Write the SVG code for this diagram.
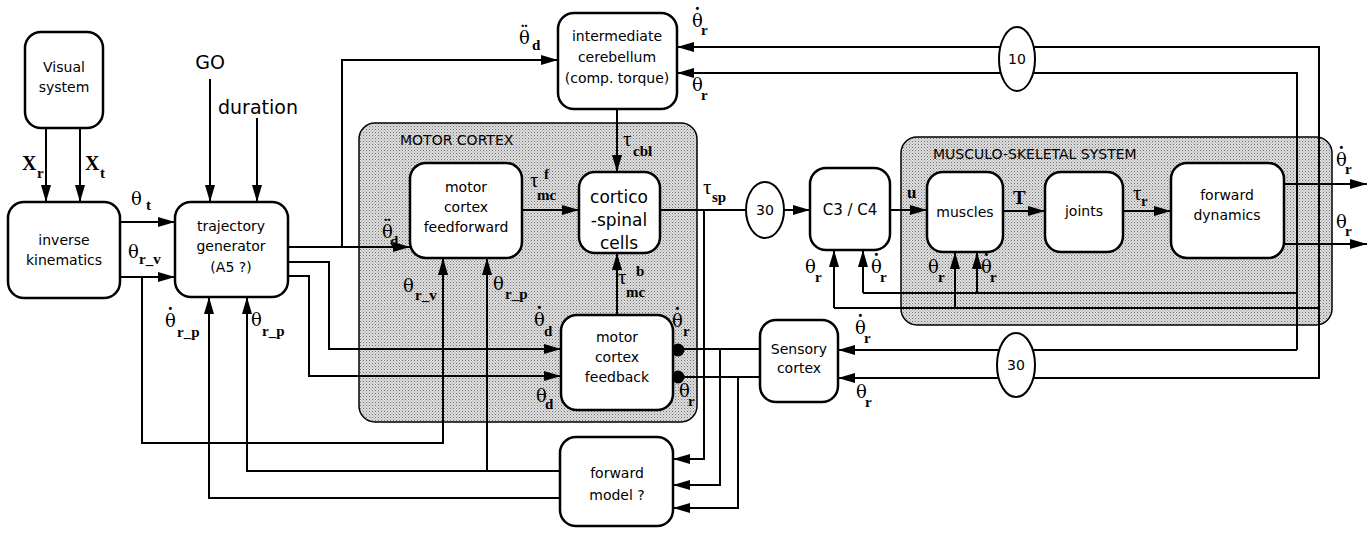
<svg xmlns="http://www.w3.org/2000/svg" width="1370" height="533" viewBox="0 0 1370 533">
<style>
.box{fill:#fff;stroke:#000;stroke-width:2.5}
.reg{fill:url(#dots);stroke:#000;stroke-width:1.5}
.ell{fill:#fff;stroke:#000;stroke-width:2}
.c{fill:none;stroke:#000;stroke-width:2}
.a{marker-end:url(#ah)}
.t{font-family:"DejaVu Sans",sans-serif;font-size:14px;text-anchor:middle;fill:#000}
.big{font-size:17px}
.lab{font-family:"DejaVu Sans",sans-serif;font-size:14px;fill:#000}
.m{font-family:"Liberation Serif","DejaVu Serif",serif;font-size:21px;fill:#000}
.th{font-family:"DejaVu Serif",serif;font-size:18px}
.d{font-family:"Liberation Serif",serif;font-size:20px;font-weight:bold}
.s{font-family:"Liberation Serif",serif;font-size:15px;font-weight:bold}
</style>
<defs>
<pattern id="dots" width="3" height="3" patternUnits="userSpaceOnUse">
<rect width="3" height="3" fill="#dedede"/>
<rect width="1" height="1" fill="#707070"/>
<rect x="1.5" y="1.5" width="1" height="1" fill="#929292"/>
</pattern>
<marker id="ah" markerWidth="17" markerHeight="10" refX="17" refY="5" orient="auto" markerUnits="userSpaceOnUse">
<path d="M0,0 L17,5 L0,10 z" fill="#000"/>
</marker>
</defs>
<rect width="1370" height="533" fill="#fff"/>

<g id="motor-cortex-region">
<rect class="reg" x="359" y="123" width="338" height="299" rx="16"/>
<text class="lab" x="400" y="145">MOTOR CORTEX</text>
</g>
<g id="musculo-skeletal-region">
<rect class="reg" x="901" y="137" width="431" height="188" rx="16"/>
<text class="lab" x="933" y="159">MUSCULO-SKELETAL SYSTEM</text>
</g>

<g id="connectors">
<path class="c a" d="M46,128 V202"/>
<path class="c a" d="M80,128 V202"/>
<path class="c a" d="M210,79 V202"/>
<path class="c a" d="M257,118 V202"/>
<path class="c a" d="M120,222 H175"/>
<path class="c a" d="M120,277 H175"/>
<path class="c a" d="M142,277 V443 H443 V258"/>
<path class="c a" d="M288,247 H410"/>
<path class="c a" d="M342,247 V60 H558"/>
<path class="c a" d="M288,262 H329 V349 H561"/>
<path class="c a" d="M288,276 H309 V376 H561"/>
<path class="c a" d="M560,471 H247 V297"/>
<path class="c a" d="M487,471 V258"/>
<path class="c a" d="M560,498 H209 V297"/>
<path class="c a" d="M617,109 V172"/>
<path class="c a" d="M522,210 H579"/>
<path class="c a" d="M617,315 V253"/>
<path class="c" d="M660,210 H746"/>
<path class="c a" d="M784,210 H810"/>
<path class="c a" d="M704,210 V459 H673"/>
<path class="c" d="M678,349 H760"/>
<path class="c" d="M678,377 H760"/>
<path class="c a" d="M720,349 V485 H673"/>
<path class="c a" d="M738,377 V508 H673"/>
<path class="c a" d="M890,210 H927"/>
<path class="c a" d="M1003,211 H1045"/>
<path class="c a" d="M1123,211 H1171"/>
<path class="c a" d="M1284,184 H1367"/>
<path class="c a" d="M1284,244 H1367"/>
<path class="c a" d="M1319,379 V47 H677"/>
<path class="c a" d="M1297,350 V73 H677"/>
<path class="c a" d="M1297,350 H838"/>
<path class="c a" d="M1319,378 H838"/>
<path class="c" d="M1297,293 H863"/>
<path class="c a" d="M863,293 V250"/>
<path class="c a" d="M977,293 V252"/>
<path class="c" d="M1319,308 H834"/>
<path class="c a" d="M834,308 V250"/>
<path class="c a" d="M955,308 V252"/>
<circle cx="678" cy="350" r="6.5" fill="#000"/>
<circle cx="678" cy="377" r="6.5" fill="#000"/>
</g>

<g id="visual-system">
<rect class="box" x="25" y="32" width="78" height="96" rx="16"/>
<text class="t" x="64" y="72">Visual</text>
<text class="t" x="64" y="92">system</text>
</g>
<g id="inverse-kinematics">
<rect class="box" x="8" y="202" width="112" height="96" rx="16"/>
<text class="t" x="64" y="245">inverse</text>
<text class="t" x="64" y="265">kinematics</text>
</g>
<g id="trajectory-generator">
<rect class="box" x="175" y="202" width="113" height="95" rx="16"/>
<text class="t" x="231" y="231">trajectory</text>
<text class="t" x="231" y="251">generator</text>
<text class="t" x="231" y="272">(A5 ?)</text>
</g>
<g id="cerebellum">
<rect class="box" x="558" y="13" width="119" height="96" rx="16"/>
<text class="t" x="617" y="41">intermediate</text>
<text class="t" x="617" y="62">cerebellum</text>
<text class="t" x="617" y="83">(comp. torque)</text>
</g>
<g id="mc-feedforward">
<rect class="box" x="410" y="163" width="112" height="95" rx="16"/>
<text class="t" x="466" y="192">motor</text>
<text class="t" x="466" y="212">cortex</text>
<text class="t" x="466" y="232">feedforward</text>
</g>
<g id="cortico-spinal">
<rect class="box" x="579" y="172" width="81" height="81" rx="16"/>
<text class="t big" x="619" y="203">cortico</text>
<text class="t big" x="619" y="226">-spinal</text>
<text class="t big" x="619" y="249">cells</text>
</g>
<g id="mc-feedback">
<rect class="box" x="561" y="315" width="112" height="95" rx="16"/>
<text class="t" x="617" y="342">motor</text>
<text class="t" x="617" y="362">cortex</text>
<text class="t" x="617" y="382">feedback</text>
</g>
<g id="forward-model">
<rect class="box" x="560" y="437" width="113" height="89" rx="16"/>
<text class="t" x="617" y="478">forward</text>
<text class="t" x="617" y="500">model ?</text>
</g>
<g id="sensory-cortex">
<rect class="box" x="760" y="320" width="78" height="82" rx="16"/>
<text class="t" x="799" y="354">Sensory</text>
<text class="t" x="799" y="373">cortex</text>
</g>
<g id="delay-30a">
<ellipse class="ell" cx="765" cy="210" rx="19" ry="28"/>
<text class="t" x="765" y="215">30</text>
</g>
<g id="c3c4">
<rect class="box" x="810" y="168" width="80" height="82" rx="16"/>
<text class="t" x="850" y="215" style="font-size:15px">C3 / C4</text>
</g>
<g id="muscles">
<rect class="box" x="927" y="172" width="76" height="80" rx="16"/>
<text class="t" x="965" y="217">muscles</text>
</g>
<g id="joints">
<rect class="box" x="1045" y="172" width="78" height="80" rx="16"/>
<text class="t" x="1084" y="216">joints</text>
</g>
<g id="forward-dynamics">
<rect class="box" x="1171" y="163" width="113" height="95" rx="16"/>
<text class="t" x="1227" y="200">forward</text>
<text class="t" x="1227" y="220">dynamics</text>
</g>
<g id="delay-10">
<ellipse class="ell" cx="1017" cy="59" rx="18" ry="32"/>
<text class="t" x="1017" y="64">10</text>
</g>
<g id="delay-30b">
<ellipse class="ell" cx="1016" cy="365" rx="19" ry="32"/>
<text class="t" x="1016" y="370">30</text>
</g>

<g id="inputs">
<text class="lab" x="210" y="69" text-anchor="middle" style="font-size:19px">GO</text>
<text class="lab" x="258" y="114" text-anchor="middle" style="font-size:19px">duration</text>
</g>

<g id="labels">
<text class="m"><tspan x="22" y="170" font-weight="bold" style="font-size:20px">X</tspan><tspan class="s" x="37" y="178">r</tspan></text>
<text class="m"><tspan x="85" y="170" font-weight="bold" style="font-size:20px">X</tspan><tspan class="s" x="100" y="178">t</tspan></text>
<text class="m"><tspan class="th" x="131" y="205">θ</tspan><tspan class="s" x="146" y="210">t</tspan></text>
<text class="m"><tspan class="th" x="128" y="258">θ</tspan><tspan class="s" x="139" y="264">r_v</tspan></text>
<text class="m"><tspan class="th" x="519" y="44">θ</tspan><tspan class="d" x="521" y="39">¨</tspan><tspan class="s" x="532" y="50">d</tspan></text>
<text class="m"><tspan class="th" x="382" y="238">θ</tspan><tspan class="d" x="384" y="233">¨</tspan><tspan class="s" x="390" y="246">d</tspan></text>
<text class="m"><tspan x="530" y="187">τ</tspan><tspan class="s" x="544" y="179">f</tspan><tspan class="s" x="537" y="200">mc</tspan></text>
<text class="m"><tspan x="623" y="146">τ</tspan><tspan class="s" x="633" y="156">cbl</tspan></text>
<text class="m"><tspan x="618" y="284">τ</tspan><tspan class="s" x="636" y="276">b</tspan><tspan class="s" x="626" y="297">mc</tspan></text>
<text class="m"><tspan class="th" x="493" y="290">θ</tspan><tspan class="s" x="505" y="299">r_p</tspan></text>
<text class="m"><tspan class="th" x="403" y="292">θ</tspan><tspan class="s" x="415" y="300">r_v</tspan></text>
<text class="m"><tspan class="th" x="251" y="326">θ</tspan><tspan class="s" x="262" y="336">r_p</tspan></text>
<text class="m"><tspan class="th" x="165" y="327">θ</tspan><tspan class="d" x="167" y="322">˙</tspan><tspan class="s" x="177" y="337">r_p</tspan></text>
<text class="m"><tspan class="th" x="534" y="326">θ</tspan><tspan class="d" x="536" y="321">˙</tspan><tspan class="s" x="544" y="336">d</tspan></text>
<text class="m"><tspan class="th" x="536" y="402">θ</tspan><tspan class="s" x="545" y="409">d</tspan></text>
<text class="m"><tspan class="th" x="672" y="327">θ</tspan><tspan class="d" x="674" y="322">˙</tspan><tspan class="s" x="683" y="336">r</tspan></text>
<text class="m"><tspan class="th" x="679" y="397">θ</tspan><tspan class="s" x="688" y="406">r</tspan></text>
<text class="m"><tspan x="703" y="194">τ</tspan><tspan class="s" x="712" y="202">sp</tspan></text>
<text class="m"><tspan class="s" x="907" y="198" style="font-size:17px">u</tspan></text>
<text class="m"><tspan class="s" x="1013" y="204" style="font-size:19px">T</tspan></text>
<text class="m"><tspan x="1133" y="200">τ</tspan><tspan class="s" x="1141" y="206">r</tspan></text>
<text class="m"><tspan class="th" x="692" y="27">θ</tspan><tspan class="d" x="694" y="22">˙</tspan><tspan class="s" x="701" y="35">r</tspan></text>
<text class="m"><tspan class="th" x="692" y="91">θ</tspan><tspan class="s" x="701" y="100">r</tspan></text>
<text class="m"><tspan class="th" x="1336" y="166">θ</tspan><tspan class="d" x="1338" y="161">˙</tspan><tspan class="s" x="1345" y="174">r</tspan></text>
<text class="m"><tspan class="th" x="1336" y="228">θ</tspan><tspan class="s" x="1345" y="236">r</tspan></text>
<text class="m"><tspan class="th" x="805" y="273">θ</tspan><tspan class="s" x="815" y="282">r</tspan></text>
<text class="m"><tspan class="th" x="871" y="273">θ</tspan><tspan class="d" x="873" y="268">˙</tspan><tspan class="s" x="880" y="282">r</tspan></text>
<text class="m"><tspan class="th" x="928" y="273">θ</tspan><tspan class="s" x="938" y="282">r</tspan></text>
<text class="m"><tspan class="th" x="981" y="273">θ</tspan><tspan class="d" x="983" y="268">˙</tspan><tspan class="s" x="990" y="282">r</tspan></text>
<text class="m"><tspan class="th" x="855" y="334">θ</tspan><tspan class="d" x="857" y="329">˙</tspan><tspan class="s" x="864" y="343">r</tspan></text>
<text class="m"><tspan class="th" x="856" y="398">θ</tspan><tspan class="s" x="865" y="407">r</tspan></text>
</g>
</svg>
